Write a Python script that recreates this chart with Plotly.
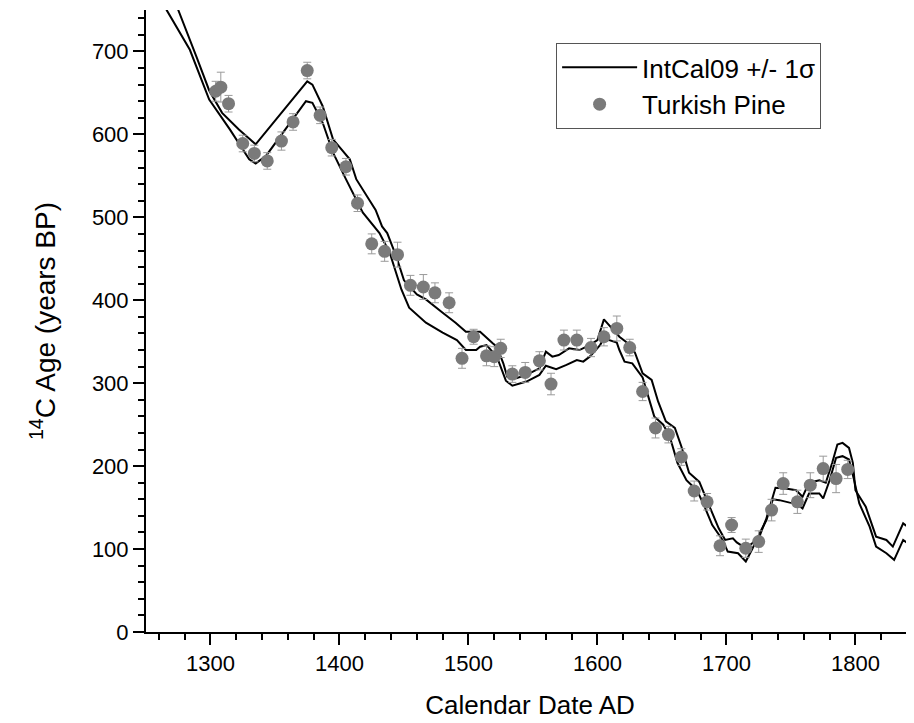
import plotly.graph_objects as go

# IntCal09 +1 sigma (upper) curve
upper_x = [1270, 1275, 1289, 1299, 1309, 1322, 1335, 1351, 1366, 1375, 1379, 1387, 1395, 1408, 1413, 1423, 1428,
           1433, 1437, 1444, 1450, 1460, 1467, 1480, 1490, 1498, 1509, 1519, 1522, 1527, 1530, 1537, 1545, 1555,
           1560, 1565, 1570, 1578, 1586, 1594, 1600, 1605, 1611, 1617, 1622, 1629, 1635, 1642, 1647, 1653, 1660,
           1665, 1671, 1679, 1684, 1690, 1694, 1699, 1705, 1708, 1715, 1720, 1725, 1731, 1738, 1746, 1754, 1759,
           1764, 1772, 1777, 1782, 1786, 1790, 1795, 1798, 1800, 1808, 1816, 1824, 1829, 1837, 1844, 1850]
upper_y = [775, 750, 694, 653, 626, 606, 588, 618, 646, 664, 660, 634, 594, 570, 546, 521, 509,
           489, 481, 453, 424, 407, 401, 385, 373, 362, 362, 348, 344, 324, 308, 306, 310, 318,
           338, 332, 334, 342, 340, 346, 352, 377, 366, 356, 350, 337, 312, 304, 278, 254, 246,
           224, 192, 181, 162, 139, 125, 111, 113, 108, 101, 107, 113, 137, 174, 173, 171, 163,
           180, 183, 180, 204, 226, 228, 222, 204, 171, 151, 115, 111, 103, 131, 123, 118]

# IntCal09 -1 sigma (lower) curve
lower_x = [1262, 1266, 1284, 1299, 1315, 1330, 1335, 1343, 1374, 1379, 1387, 1395, 1405, 1418, 1431, 1439,
           1448, 1454, 1467, 1480, 1491, 1498, 1506, 1509, 1514, 1522, 1529, 1534, 1545, 1555, 1560, 1568,
           1576, 1584, 1589, 1594, 1602, 1605, 1615, 1617, 1621, 1627, 1635, 1638, 1644, 1651, 1656, 1662,
           1669, 1677, 1682, 1689, 1697, 1701, 1709, 1715, 1720, 1727, 1731, 1736, 1741, 1749, 1754, 1759,
           1764, 1772, 1775, 1780, 1785, 1790, 1795, 1799, 1803, 1811, 1816, 1824, 1830, 1837, 1844, 1850]
lower_y = [775, 750, 702, 642, 606, 570, 565, 574, 640, 638, 614, 578, 546, 506, 481, 457,
           413, 391, 373, 361, 352, 340, 340, 344, 346, 332, 303, 297, 302, 310, 321, 317,
           322, 328, 326, 332, 346, 354, 349, 340, 326, 324, 307, 292, 260, 250, 236, 204,
           183, 171, 155, 129, 111, 97, 95, 85, 100, 123, 135, 160, 159, 156, 155, 149,
           167, 167, 161, 183, 210, 212, 208, 183, 155, 127, 103, 95, 87, 111, 103, 98]

# Turkish Pine measurements
pine_x = [1304, 1308, 1314, 1325, 1334, 1344, 1355, 1364, 1375, 1385, 1394, 1405, 1414, 1425, 1435, 1445,
          1455, 1465, 1474, 1485, 1495, 1504, 1514, 1520, 1525, 1534, 1544, 1555, 1564, 1574, 1584, 1595,
          1605, 1615, 1625, 1635, 1645, 1655, 1665, 1675, 1685, 1695, 1704, 1715, 1725, 1735, 1744, 1755,
          1765, 1775, 1785, 1794]
pine_y = [652, 657, 637, 589, 577, 568, 592, 615, 677, 623, 584, 561, 517, 468, 459, 455,
          418, 416, 409, 397, 330, 356, 333, 332, 342, 311, 313, 327, 299, 352, 352, 343,
          356, 366, 343, 290, 246, 238, 211, 170, 157, 104, 129, 101, 109, 147, 179, 157,
          177, 197, 185, 196]
pine_err = [12, 18, 10, 10, 10, 10, 11, 10, 10, 10, 10, 10, 10, 12, 12, 15,
            12, 15, 12, 12, 12, 9, 12, 12, 11, 10, 12, 11, 13, 12, 12, 11,
            11, 15, 10, 11, 12, 10, 10, 12, 10, 12, 9, 11, 13, 13, 13, 14,
            15, 15, 17, 11]

x_ticks = [1300, 1400, 1500, 1600, 1700, 1800]
y_ticks = [0, 100, 200, 300, 400, 500, 600, 700]

FONT = "Liberation Sans, Arial, sans-serif"

fig = go.Figure()
fig.add_trace(go.Scatter(x=upper_x, y=upper_y, mode="lines", name="IntCal09 +/- 1σ",
                         line=dict(color="black", width=2), legendgroup="ic"))
fig.add_trace(go.Scatter(x=lower_x, y=lower_y, mode="lines", name="IntCal09 +/- 1σ",
                         line=dict(color="black", width=2), legendgroup="ic", showlegend=False))
fig.add_trace(go.Scatter(x=pine_x, y=pine_y, mode="markers", name="Turkish Pine",
                         marker=dict(color="#7a7a7a", size=13),
                         error_y=dict(type="data", array=pine_err, color="#9a9a9a", thickness=1, width=4)))

# page body has an 8px default margin, compensate in figure margins
fig.update_layout(
    width=914, height=723,
    margin=dict(l=138, r=8, t=2, b=99, autoexpand=False),
    paper_bgcolor="white", plot_bgcolor="white",
    font=dict(family=FONT, color="black"),
    showlegend=True,
    legend=dict(x=0.534, y=0.947, xanchor="left", yanchor="top",
                bordercolor="#555", borderwidth=1, bgcolor="white",
                font=dict(size=26, family=FONT), tracegroupgap=0, itemwidth=75),
    xaxis=dict(range=[1250, 1845.4], tickvals=x_ticks, ticks="outside", ticklen=11, tickwidth=2,
               tickcolor="black", showline=True, linecolor="black", linewidth=2, showgrid=False,
               zeroline=False, tickfont=dict(size=22, family=FONT),
               minor=dict(dtick=20, tick0=1300, ticks="outside", ticklen=6, tickwidth=2, tickcolor="black"),
               title=dict(text="Calendar Date AD", font=dict(size=26, family=FONT), standoff=20)),
    yaxis=dict(range=[0, 750], tickvals=y_ticks, ticks="outside", ticklen=11, tickwidth=2,
               tickcolor="black", showline=True, linecolor="black", linewidth=2, showgrid=False,
               zeroline=False, tickfont=dict(size=22, family=FONT),
               minor=dict(dtick=20, tick0=0, ticks="outside", ticklen=6, tickwidth=2, tickcolor="black"),
               title=dict(text="<sup>14</sup>C Age (years BP)", font=dict(size=28, family=FONT), standoff=28)),
)

fig.write_html("out.html")
